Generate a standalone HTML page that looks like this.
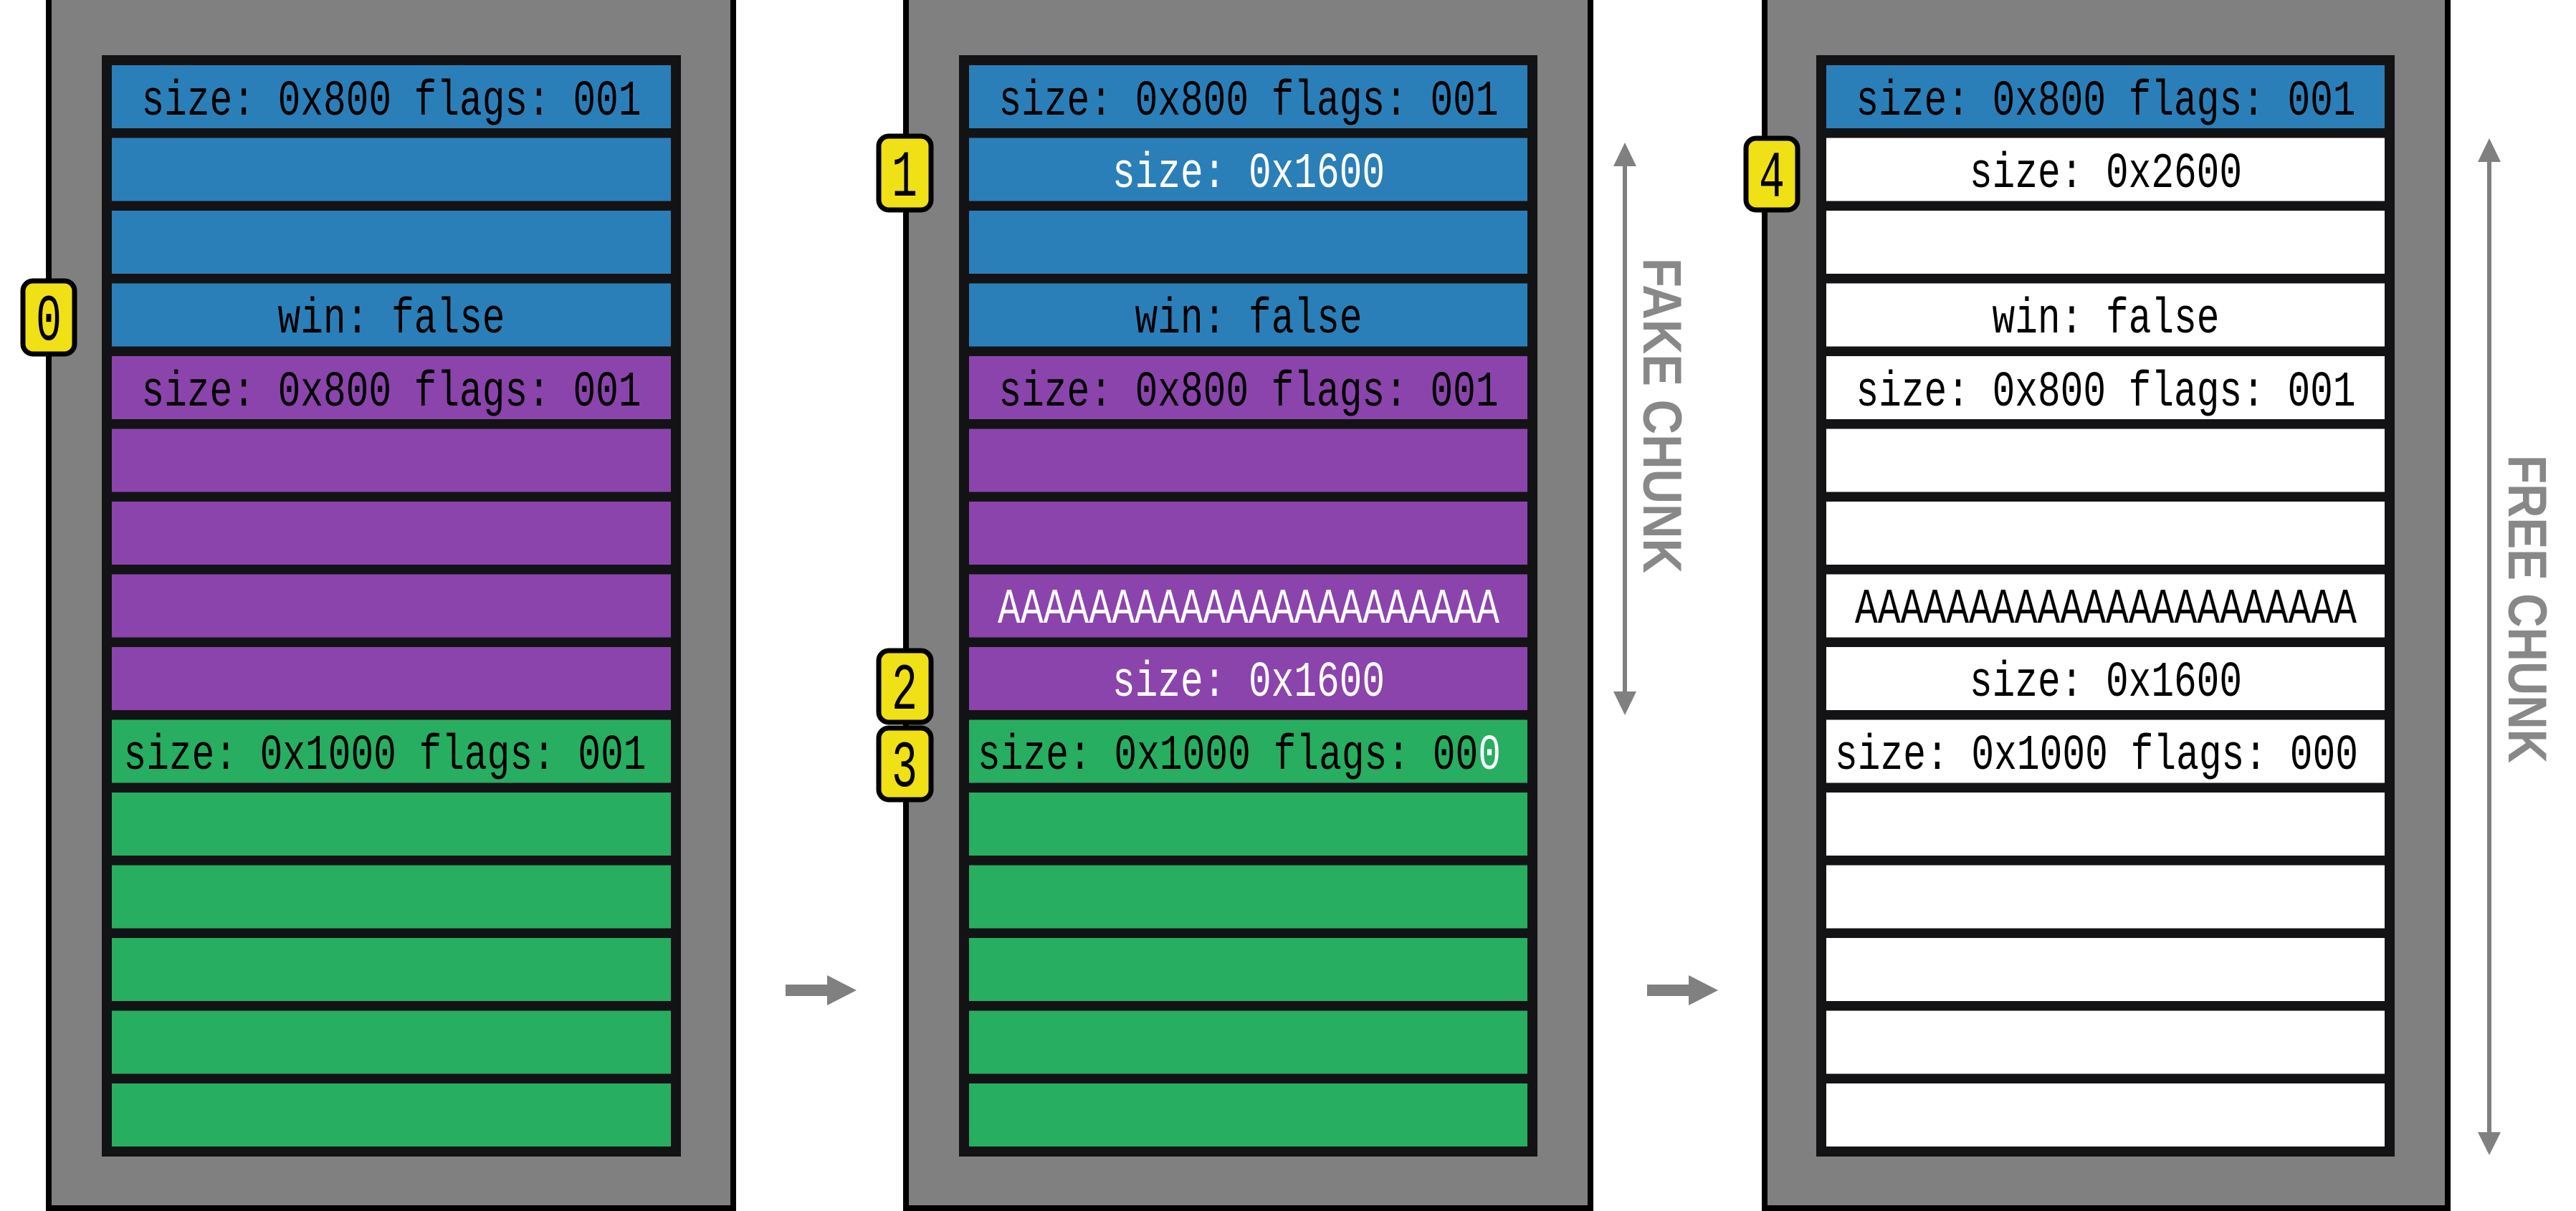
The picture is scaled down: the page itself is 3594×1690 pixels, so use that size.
<!DOCTYPE html>
<html><head><meta charset="utf-8"><style>html,body{margin:0;padding:0;background:#fff}svg{display:block}</style></head>
<body>
<svg width="3594" height="1690" viewBox="0 0 3594 1690" xmlns="http://www.w3.org/2000/svg">
<defs>
<style>
.t{font-family:"Liberation Mono",monospace;font-size:70px;text-anchor:middle}
.b{font-family:"Liberation Mono",monospace;font-size:92px;text-anchor:middle}
.l{font-family:"Liberation Sans",sans-serif;font-weight:bold;font-size:76px;fill:#888;text-anchor:middle}
</style>
</defs>
<g stroke="#000" stroke-width="8" fill="#808080">
<rect x="68" y="-10" width="955" height="1696"/>
<rect x="1264" y="-10" width="955" height="1696"/>
<rect x="2462" y="-10" width="953" height="1696"/>
</g>
<g fill="#131316">
<rect x="142" y="77" width="808" height="1537"/>
<rect x="1338" y="77" width="807" height="1537"/>
<rect x="2534" y="77" width="807" height="1537"/>
</g>
<g>
<rect x="156" y="91" width="780" height="88" fill="#2b7fb8"/>
<rect x="156" y="192.5" width="780" height="88" fill="#2b7fb8"/>
<rect x="156" y="294" width="780" height="88" fill="#2b7fb8"/>
<rect x="156" y="395.5" width="780" height="88" fill="#2b7fb8"/>
<rect x="156" y="497" width="780" height="88" fill="#8b44ac"/>
<rect x="156" y="598.5" width="780" height="88" fill="#8b44ac"/>
<rect x="156" y="700" width="780" height="88" fill="#8b44ac"/>
<rect x="156" y="801.5" width="780" height="88" fill="#8b44ac"/>
<rect x="156" y="903" width="780" height="88" fill="#8b44ac"/>
<rect x="156" y="1004.5" width="780" height="88" fill="#27ae60"/>
<rect x="156" y="1106" width="780" height="88" fill="#27ae60"/>
<rect x="156" y="1207.5" width="780" height="88" fill="#27ae60"/>
<rect x="156" y="1309" width="780" height="88" fill="#27ae60"/>
<rect x="156" y="1410.5" width="780" height="88" fill="#27ae60"/>
<rect x="156" y="1512" width="780" height="88" fill="#27ae60"/>
</g>
<g class="t" fill="#000">
<text x="546" y="160" textLength="697" lengthAdjust="spacingAndGlyphs">size: 0x800 flags: 001</text>
<text x="546" y="464" textLength="317" lengthAdjust="spacingAndGlyphs">win: false</text>
<text x="546" y="566" textLength="697" lengthAdjust="spacingAndGlyphs">size: 0x800 flags: 001</text>
<text x="537" y="1073" textLength="729" lengthAdjust="spacingAndGlyphs">size: 0x1000 flags: 001</text>
</g>
<g>
<rect x="1352" y="91" width="779" height="88" fill="#2b7fb8"/>
<rect x="1352" y="192.5" width="779" height="88" fill="#2b7fb8"/>
<rect x="1352" y="294" width="779" height="88" fill="#2b7fb8"/>
<rect x="1352" y="395.5" width="779" height="88" fill="#2b7fb8"/>
<rect x="1352" y="497" width="779" height="88" fill="#8b44ac"/>
<rect x="1352" y="598.5" width="779" height="88" fill="#8b44ac"/>
<rect x="1352" y="700" width="779" height="88" fill="#8b44ac"/>
<rect x="1352" y="801.5" width="779" height="88" fill="#8b44ac"/>
<rect x="1352" y="903" width="779" height="88" fill="#8b44ac"/>
<rect x="1352" y="1004.5" width="779" height="88" fill="#27ae60"/>
<rect x="1352" y="1106" width="779" height="88" fill="#27ae60"/>
<rect x="1352" y="1207.5" width="779" height="88" fill="#27ae60"/>
<rect x="1352" y="1309" width="779" height="88" fill="#27ae60"/>
<rect x="1352" y="1410.5" width="779" height="88" fill="#27ae60"/>
<rect x="1352" y="1512" width="779" height="88" fill="#27ae60"/>
</g>
<g class="t">
<text x="1742" y="160" fill="#000" textLength="697" lengthAdjust="spacingAndGlyphs">size: 0x800 flags: 001</text>
<text x="1742" y="261" fill="#fff" textLength="380" lengthAdjust="spacingAndGlyphs">size: 0x1600</text>
<text x="1742" y="464" fill="#000" textLength="317" lengthAdjust="spacingAndGlyphs">win: false</text>
<text x="1742" y="566" fill="#000" textLength="697" lengthAdjust="spacingAndGlyphs">size: 0x800 flags: 001</text>
<text x="1742" y="869" fill="#fff" textLength="700" lengthAdjust="spacingAndGlyphs">AAAAAAAAAAAAAAAAAAAAAA</text>
<text x="1742" y="971" fill="#fff" textLength="380" lengthAdjust="spacingAndGlyphs">size: 0x1600</text>
<text x="1729" y="1073" fill="#000" textLength="730" lengthAdjust="spacingAndGlyphs">size: 0x1000 flags: 00<tspan fill="#fff">0</tspan></text>
</g>
<g fill="#fff">
<rect x="2548" y="91" width="779" height="88" fill="#2b7fb8"/>
<rect x="2548" y="192.5" width="779" height="88"/>
<rect x="2548" y="294" width="779" height="88"/>
<rect x="2548" y="395.5" width="779" height="88"/>
<rect x="2548" y="497" width="779" height="88"/>
<rect x="2548" y="598.5" width="779" height="88"/>
<rect x="2548" y="700" width="779" height="88"/>
<rect x="2548" y="801.5" width="779" height="88"/>
<rect x="2548" y="903" width="779" height="88"/>
<rect x="2548" y="1004.5" width="779" height="88"/>
<rect x="2548" y="1106" width="779" height="88"/>
<rect x="2548" y="1207.5" width="779" height="88"/>
<rect x="2548" y="1309" width="779" height="88"/>
<rect x="2548" y="1410.5" width="779" height="88"/>
<rect x="2548" y="1512" width="779" height="88"/>
</g>
<g class="t" fill="#000">
<text x="2938" y="160" textLength="697" lengthAdjust="spacingAndGlyphs">size: 0x800 flags: 001</text>
<text x="2938" y="261" textLength="380" lengthAdjust="spacingAndGlyphs">size: 0x2600</text>
<text x="2938" y="464" textLength="317" lengthAdjust="spacingAndGlyphs">win: false</text>
<text x="2938" y="566" textLength="697" lengthAdjust="spacingAndGlyphs">size: 0x800 flags: 001</text>
<text x="2938" y="869" textLength="700" lengthAdjust="spacingAndGlyphs">AAAAAAAAAAAAAAAAAAAAAA</text>
<text x="2938" y="971" textLength="380" lengthAdjust="spacingAndGlyphs">size: 0x1600</text>
<text x="2925" y="1073" textLength="730" lengthAdjust="spacingAndGlyphs">size: 0x1000 flags: 000</text>
</g>
<g fill="#f0e016" stroke="#000" stroke-width="7">
<rect x="32" y="392" width="72" height="102" rx="14"/>
<rect x="1226" y="190" width="73" height="103" rx="14"/>
<rect x="1226" y="908" width="73" height="100" rx="14"/>
<rect x="1226" y="1016" width="73" height="100" rx="14"/>
<rect x="2436" y="193" width="72" height="100" rx="14"/>
</g>
<g class="b" fill="#000">
<text x="68" y="474" textLength="36" lengthAdjust="spacingAndGlyphs">0</text>
<text x="1262" y="273" textLength="36" lengthAdjust="spacingAndGlyphs">1</text>
<text x="1262" y="989" textLength="36" lengthAdjust="spacingAndGlyphs">2</text>
<text x="1262" y="1097" textLength="36" lengthAdjust="spacingAndGlyphs">3</text>
<text x="2472" y="274" textLength="36" lengthAdjust="spacingAndGlyphs">4</text>
</g>
<g fill="#808080">
<rect x="1096" y="1374" width="60" height="16"/>
<polygon points="1154,1361 1195,1382 1154,1403"/>
<rect x="2298" y="1374" width="60" height="16"/>
<polygon points="2356,1361 2397,1382 2356,1403"/>
</g>
<g fill="#808080">
<rect x="2264" y="225" width="6" height="748"/>
<polygon points="2267,199 2283,232 2251,232"/>
<polygon points="2267,998 2283,965 2251,965"/>
<rect x="3470" y="220" width="6" height="1366"/>
<polygon points="3473,193 3489,226 3457,226"/>
<polygon points="3473,1612 3489,1580 3457,1580"/>
</g>
<text class="l" transform="translate(2293,580) rotate(90)" textLength="440" lengthAdjust="spacingAndGlyphs">FAKE CHUNK</text>
<text class="l" transform="translate(3500,850) rotate(90)" textLength="430" lengthAdjust="spacingAndGlyphs">FREE CHUNK</text>
</svg>
</body></html>
